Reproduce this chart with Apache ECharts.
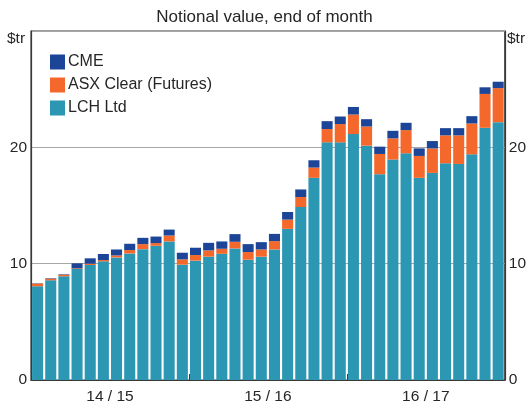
<!DOCTYPE html>
<html>
<head>
<meta charset="utf-8">
<script src="https://cdn.jsdelivr.net/npm/echarts@6/dist/echarts.min.js"></script>
<style>html,body{margin:0;padding:0;background:#fff}#c{width:529px;height:405px}</style>
</head>
<body>
<div id="c"></div>
<script>
// Months: Jul 2014 .. Jun 2017
var months = [];
(function(){var y=2014,m=7;for(var i=0;i<36;i++){months.push(y+'-'+(m<10?'0':'')+m);m++;if(m>12){m=1;y++;}}})();
var yearLabels = ['14 / 15', '15 / 16', '16 / 17'];
var yTicks = [0, 10, 20, 30];

var lch = [8.06, 8.57, 8.92, 9.54, 9.89, 10.2, 10.54, 10.88, 11.25, 11.54, 11.91, 9.91,
           10.26, 10.6, 10.85, 11.31, 10.34, 10.6, 11.22, 12.99, 14.87, 17.38, 20.43, 20.43,
           21.14, 20.14, 17.69, 18.95, 19.49, 17.38, 17.8, 18.63, 18.57, 19.4, 21.68, 22.16];
var asx = [0.23, 0.15, 0.14, 0.06, 0.11, 0.11, 0.17, 0.29, 0.43, 0.23, 0.51, 0.46,
           0.48, 0.54, 0.43, 0.57, 0.66, 0.62, 0.72, 0.8, 0.86, 0.88, 1.14, 1.57,
           1.68, 1.65, 1.74, 1.82, 1.99, 1.88, 2.11, 2.4, 2.46, 2.65, 2.91, 2.93];
var cme = [0.03, 0.04, 0.04, 0.43, 0.46, 0.52, 0.51, 0.54, 0.54, 0.56, 0.51, 0.57,
           0.63, 0.65, 0.63, 0.66, 0.68, 0.63, 0.62, 0.65, 0.65, 0.63, 0.68, 0.65,
           0.65, 0.63, 0.63, 0.65, 0.63, 0.65, 0.63, 0.62, 0.62, 0.63, 0.57, 0.55];

var FONT = '"Liberation Sans", Arial, sans-serif';
var TXT = '#262626';
var chart = echarts.init(document.getElementById('c'), null, {renderer: 'canvas'});
var yAxisCommon = {
  type: 'value', min: yTicks[0], max: yTicks[yTicks.length-1], interval: 10,
  axisLine: {show: true, lineStyle: {color: '#3a3a3a', width: 1.2}},
  axisTick: {show: false},
  splitLine: {show: true, lineStyle: {color: '#a6a6a6', width: 1}},
  axisLabel: {fontFamily: FONT, fontSize: 15.5, color: TXT, margin: 4,
    formatter: function(v){ return v === 30 ? '' : String(v); }}
};
chart.setOption({
  animation: false,
  textStyle: {fontFamily: FONT},
  grid: {left: 31, right: 22, top: 31, bottom: 24, show: true, borderColor: '#3a3a3a', borderWidth: 1.2, backgroundColor: 'transparent'},
  legend: {
    data: ['CME', 'ASX Clear (Futures)', 'LCH Ltd'],
    orient: 'vertical', left: 50, top: 54, padding: 0, itemGap: 7,
    itemWidth: 15, itemHeight: 15, icon: 'rect', selectedMode: false,
    textStyle: {fontFamily: FONT, fontSize: 16, color: TXT, padding: [0,0,0,-2]}
  },
  xAxis: [
    {type: 'category', data: months, boundaryGap: true,
     axisLine: {show: true, lineStyle: {color: '#3a3a3a', width: 1.2}},
     axisTick: {show: true, inside: true, length: 6, lineStyle: {color: '#3a3a3a'},
       interval: function(i){ return i % 12 === 0; }},
     axisLabel: {show: false}, splitLine: {show: false}},
    {type: 'category', data: yearLabels, position: 'bottom', boundaryGap: true,
     axisLine: {show: false}, axisTick: {show: false},
     axisLabel: {fontFamily: FONT, fontSize: 15.5, color: TXT, margin: 9}}
  ],
  yAxis: [
    Object.assign({position: 'left'}, yAxisCommon),
    Object.assign({position: 'right'}, yAxisCommon, {splitLine: {show: false}})
  ],
  series: [
    {name: 'LCH Ltd', type: 'bar', stack: 't', data: lch, itemStyle: {color: '#2b97b3'}, barCategoryGap: '16%'},
    {name: 'ASX Clear (Futures)', type: 'bar', stack: 't', data: asx, itemStyle: {color: '#f4692b'}},
    {name: 'CME', type: 'bar', stack: 't', data: cme, itemStyle: {color: '#1d4597'}}
  ],
  graphic: [
    {type: 'text', left: 'center', top: 9, style: {text: 'Notional value, end of month', font: '17px ' + FONT, fill: TXT}},
    {type: 'text', left: 7, top: 31, style: {text: '$tr', font: '15.5px ' + FONT, fill: TXT}},
    {type: 'text', left: 507, top: 31, style: {text: '$tr', font: '15.5px ' + FONT, fill: TXT}}
  ]
});
</script>
</body>
</html>
